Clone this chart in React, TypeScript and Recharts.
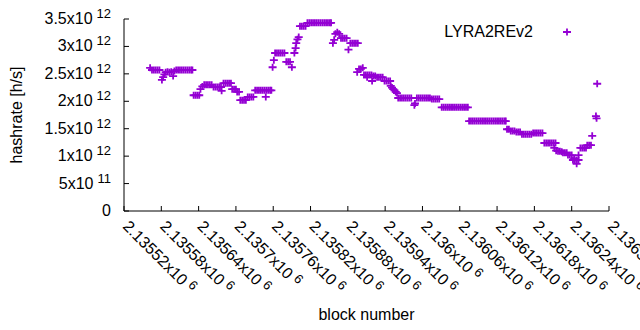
import { Scatter, ScatterChart, XAxis, YAxis } from "recharts";

const seriesName = "LYRA2REv2";

// block number of each sample
const blockNumbers = [
  2135562,
  2135565, 2135568, 2135571, 2135574, 2135577,
  2135581, 2135583, 2135585,
  2135587, 2135590, 2135593, 2135596,
  2135599, 2135601,
  2135604, 2135607, 2135610, 2135613, 2135616, 2135619, 2135622, 2135625, 2135628, 2135630,
  2135632, 2135635, 2135638, 2135641,
  2135643, 2135646,
  2135649, 2135652, 2135655, 2135658, 2135661,
  2135664, 2135667, 2135670, 2135673, 2135676, 2135677,
  2135680, 2135683, 2135686, 2135689, 2135692,
  2135694, 2135697, 2135700, 2135702, 2135705,
  2135707, 2135710, 2135713, 2135716,
  2135719, 2135722, 2135725, 2135728,
  2135731, 2135734, 2135737, 2135740, 2135743, 2135746, 2135748,
  2135749, 2135752, 2135755, 2135757,
  2135759, 2135761,
  2135763, 2135766, 2135769, 2135772, 2135775, 2135778,
  2135781, 2135784, 2135787, 2135790,
  2135794, 2135796, 2135797, 2135799, 2135801,
  2135803, 2135806, 2135809, 2135812,
  2135815, 2135818, 2135821, 2135824, 2135827, 2135830, 2135833,
  2135836, 2135839, 2135842, 2135845, 2135848, 2135851, 2135853,
  2135856, 2135858, 2135860, 2135863, 2135866,
  2135869, 2135872, 2135875, 2135878, 2135881,
  2135884, 2135887, 2135890, 2135893, 2135896,
  2135895, 2135898, 2135901, 2135904,
  2135906, 2135909, 2135911, 2135912, 2135915, 2135918, 2135919,
  2135921, 2135924, 2135927, 2135930, 2135933, 2135936,
  2135939, 2135942, 2135945, 2135948,
  2135949, 2135951, 2135953, 2135955, 2135957, 2135959,
  2135961, 2135964, 2135967, 2135970, 2135973, 2135976, 2135979, 2135982,
  2135987, 2135988,
  2135991, 2135994, 2135997, 2136000, 2136003, 2136006, 2136009, 2136012,
  2136015, 2136018, 2136021, 2136024, 2136027,
  2136031, 2136034, 2136037, 2136040, 2136043, 2136046, 2136049, 2136052,
  2136055, 2136058, 2136061, 2136064, 2136067, 2136070, 2136073,
  2136075, 2136078, 2136081, 2136084, 2136087, 2136090, 2136093,
  2136096, 2136099, 2136102, 2136105, 2136108, 2136111, 2136114,
  2136117, 2136120, 2136123, 2136126, 2136129, 2136132, 2136134,
  2136136, 2136139, 2136142, 2136145, 2136148,
  2136151, 2136154, 2136157,
  2136160, 2136163, 2136166, 2136169, 2136172, 2136175,
  2136178, 2136181, 2136184, 2136187, 2136190, 2136193,
  2136196, 2136199, 2136202, 2136205, 2136208, 2136211, 2136214,
  2136212, 2136215, 2136218, 2136221, 2136224,
  2136226, 2136229, 2136232,
  2136234, 2136237, 2136240,
  2136242, 2136244, 2136245, 2136248, 2136248, 2136251, 2136251,
  2136254, 2136257, 2136260, 2136263,
  2136265, 2136268, 2136271,
  2136273, 2136279, 2136280, 2136281,
];

// hashrate in units of 10^12 h/s, same order as blockNumbers
const hashrateT = [
  2.61,
  2.57, 2.57, 2.57, 2.57, 2.57,
  2.39, 2.44, 2.49,
  2.53, 2.54, 2.53, 2.54,
  2.46, 2.55,
  2.57, 2.57, 2.57, 2.57, 2.57, 2.57, 2.57, 2.57, 2.57, 2.57,
  2.11, 2.11, 2.11, 2.11,
  2.22, 2.27,
  2.3, 2.3, 2.3, 2.3, 2.3,
  2.26, 2.26, 2.26, 2.26, 2.26, 2.19,
  2.33, 2.33, 2.33, 2.33, 2.33,
  2.22, 2.22, 2.22, 2.17, 2.17,
  2.02, 2.02, 2.02, 2.02,
  2.08, 2.08, 2.08, 2.08,
  2.2, 2.2, 2.2, 2.2, 2.2, 2.2, 2.08,
  2.2, 2.2, 2.2, 2.2,
  2.62, 2.75,
  2.88, 2.88, 2.88, 2.88, 2.88, 2.88,
  2.72, 2.72, 2.72, 2.62,
  2.88, 2.97, 3.06, 3.13, 3.17,
  3.37, 3.37, 3.37, 3.37,
  3.43, 3.43, 3.43, 3.43, 3.43, 3.43, 3.43,
  3.43, 3.43, 3.43, 3.43, 3.43, 3.43, 3.43,
  3.06, 3.12, 3.23, 3.26, 3.23,
  3.15, 3.15, 3.15, 3.15, 2.94,
  3.06, 3.06, 3.06, 3.06, 3.06,
  2.53, 2.59, 2.59, 2.61,
  2.48, 2.48, 2.44, 2.48, 2.48, 2.48, 2.37,
  2.46, 2.46, 2.44, 2.44, 2.44, 2.44,
  2.37, 2.37, 2.37, 2.37,
  2.28, 2.25, 2.22, 2.2, 2.17, 2.15,
  2.06, 2.06, 2.06, 2.06, 2.06, 2.06, 2.06, 2.06,
  1.93, 1.96,
  2.06, 2.06, 2.06, 2.06, 2.06, 2.06, 2.06, 2.06,
  2.04, 2.04, 2.04, 2.04, 2.04,
  1.89, 1.89, 1.89, 1.89, 1.89, 1.89, 1.89, 1.89,
  1.89, 1.89, 1.89, 1.89, 1.89, 1.89, 1.89,
  1.64, 1.64, 1.64, 1.64, 1.64, 1.64, 1.64,
  1.64, 1.64, 1.64, 1.64, 1.64, 1.64, 1.64,
  1.64, 1.64, 1.64, 1.64, 1.64, 1.64, 1.64,
  1.49, 1.49, 1.46, 1.46, 1.46,
  1.44, 1.44, 1.44,
  1.4, 1.4, 1.4, 1.4, 1.4, 1.4,
  1.42, 1.42, 1.42, 1.42, 1.42, 1.42,
  1.24, 1.24, 1.24, 1.24, 1.24, 1.24, 1.24,
  1.15, 1.1, 1.09, 1.09, 1.08,
  1.06, 1.06, 1.06,
  1.02, 1.02, 1.02,
  0.93, 0.95, 0.93, 0.93, 0.86, 0.93, 1.02,
  1.15, 1.15, 1.15, 1.15,
  1.2, 1.2, 1.2,
  1.37, 1.73, 1.69, 2.32,
];

const xTicks = [
  2135520, 2135580, 2135640, 2135700, 2135760, 2135820, 2135880, 2135940,
  2136000, 2136060, 2136120, 2136180, 2136240, 2136300,
];
const xTickMantissas = [
  "2.13552", "2.13558", "2.13564", "2.1357", "2.13576", "2.13582", "2.13588",
  "2.13594", "2.136", "2.13606", "2.13612", "2.13618", "2.13624", "2.1363",
];
const yTicks = [0, 0.5, 1, 1.5, 2, 2.5, 3, 3.5];
const yTickMantissas = ["0", "5", "1", "1.5", "2", "2.5", "3", "3.5"];
const yTickExponents = ["", "11", "12", "12", "12", "12", "12", "12"];

const points = blockNumbers.map((block, i) => ({ block, rate: hashrateT[i] }));

const FONT = "'Liberation Sans', Arial, sans-serif";
const FS = 16;
const SUP = 13;
const PURPLE = "#9400d3";
const TICK = 5;

function Plus({ cx, cy }: any) {
  return (
    <path
      d={`M${cx - 4},${cy}h8M${cx},${cy - 3.5}v7`}
      stroke={PURPLE}
      strokeWidth={1.8}
      fill="none"
    />
  );
}

function BottomTick({ x, y, payload }: any) {
  const i = xTicks.indexOf(payload.value);
  return (
    <g>
      <line x1={x} y1={y} x2={x} y2={y - TICK} stroke="#000" />
      <g transform={`translate(${x},${y}) rotate(45)`}>
        <text x={10} y={13} fontSize={FS} fontFamily={FONT} fill="#000">
          {xTickMantissas[i]}x10
          <tspan dx={4} dy={-5} fontSize={SUP}>6</tspan>
        </text>
      </g>
    </g>
  );
}

function TopTick({ x, y }: any) {
  return <line x1={x} y1={y} x2={x} y2={y + TICK} stroke="#000" />;
}

function LeftTick({ x, y, payload }: any) {
  const i = yTicks.indexOf(payload.value);
  const exp = yTickExponents[i];
  return (
    <g>
      <line x1={x} y1={y} x2={x + TICK} y2={y} stroke="#000" />
      <text x={x - 13} y={y + 5} textAnchor="end" fontSize={FS} fontFamily={FONT} fill="#000">
        {yTickMantissas[i]}
        {exp ? "x10" : ""}
        {exp ? (
          <tspan dx={4} dy={-6} fontSize={SUP}>
            {exp}
          </tspan>
        ) : null}
      </text>
    </g>
  );
}

function RightTick({ x, y }: any) {
  return <line x1={x} y1={y} x2={x - TICK} y2={y} stroke="#000" />;
}

export default function App() {
  return (
    <div style={{ position: "relative", width: 640, height: 330, background: "#fff" }}>
      <style>{"body{margin:0}"}</style>
      <ScatterChart width={640} height={330} margin={{ top: 19, right: 31, bottom: 0, left: 0 }}>
        <XAxis
          dataKey="block"
          type="number"
          domain={[2135520, 2136300]}
          ticks={xTicks}
          allowDataOverflow
          height={119}
          tickLine={false}
          tickSize={0}
          tickMargin={0}
          tick={<BottomTick />}
          axisLine={{ stroke: "#000" }}
          interval={0}
          label={({ viewBox }: any) => (
            <text
              x={viewBox.x + viewBox.width / 2}
              y={viewBox.y + 109}
              textAnchor="middle"
              fontSize={FS}
              fontFamily={FONT}
              fill="#000"
            >
              block number
            </text>
          )}
        />
        <XAxis
          xAxisId="top"
          orientation="top"
          type="number"
          domain={[2135520, 2136300]}
          ticks={xTicks}
          allowDataOverflow
          height={0}
          tickLine={false}
          tickSize={0}
          tickMargin={0}
          tick={<TopTick />}
          axisLine={{ stroke: "#000" }}
          interval={0}
        />
        <YAxis
          dataKey="rate"
          type="number"
          domain={[0, 3.5]}
          ticks={yTicks}
          allowDataOverflow
          width={124}
          tickLine={false}
          tickSize={0}
          tickMargin={0}
          tick={<LeftTick />}
          axisLine={{ stroke: "#000" }}
          interval={0}
          label={({ viewBox }: any) => {
            const cx = viewBox.x + 16;
            const cy = viewBox.y + viewBox.height / 2;
            return (
              <text
                x={cx}
                y={cy}
                transform={`rotate(-90 ${cx} ${cy})`}
                textAnchor="middle"
                dominantBaseline="central"
                fontSize={FS}
                fontFamily={FONT}
                fill="#000"
              >
                hashrate [h/s]
              </text>
            );
          }}
        />
        <YAxis
          yAxisId="right"
          orientation="right"
          type="number"
          domain={[0, 3.5]}
          ticks={yTicks}
          allowDataOverflow
          width={0}
          tickLine={false}
          tickSize={0}
          tickMargin={0}
          tick={<RightTick />}
          axisLine={{ stroke: "#000" }}
          interval={0}
        />
        <Scatter name={seriesName} data={points} shape={<Plus />} isAnimationActive={false} />
      </ScatterChart>
      <svg
        width={640}
        height={60}
        style={{ position: "absolute", left: 0, top: 0, pointerEvents: "none" }}
      >
        <text x={533} y={37} textAnchor="end" fontSize={FS} fontFamily={FONT} fill="#000">
          {seriesName}
        </text>
        <path d="M563,32h8M567,28.5v7" stroke={PURPLE} strokeWidth={1.8} fill="none" />
      </svg>
    </div>
  );
}
